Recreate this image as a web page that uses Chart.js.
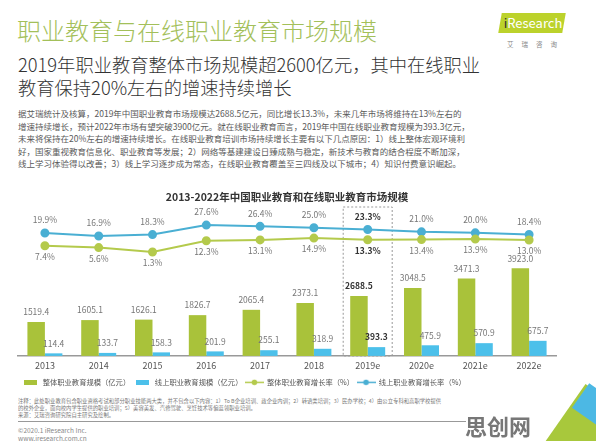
<!DOCTYPE html>
<html>
<head>
<meta charset="utf-8">
<script src="https://cdn.jsdelivr.net/npm/chart.js@4"></script>
<style>
  html, body { margin: 0; padding: 0; background: #fff; }
  body { position: relative; width: 596px; height: 441px; overflow: hidden; font-family: "Noto Sans CJK SC", "Noto Sans", sans-serif; }
  .abs { position: absolute; white-space: nowrap; }
  #title { left: 17px; top: 16px; font-size: 24px; line-height: 28px; color: #a3c05a; font-weight: 300; }
  #subtitle { left: 18px; top: 53px; font-size: 18.3px; line-height: 23px; color: #333; font-weight: 300; }
  #para { left: 18px; top: 107px; font-size: 8.5px; line-height: 12.6px; color: #5a5a5a; }
  #logo { left: 500px; top: 13px; width: 64px; height: 20px; background: #bcd22b; transform: skewX(-10deg); }
  #logoText { left: 502px; top: 13px; width: 62px; font-size: 13px; line-height: 20px; color: #fff; text-align: center; }
  #logoCn { left: 507px; top: 39px; font-size: 6.5px; letter-spacing: 8px; color: #888; }
  #note { left: 18px; top: 398px; font-size: 6px; line-height: 7.3px; color: #777; transform: scale(0.89); transform-origin: 0 0; }
  #rule { left: 18px; top: 421px; width: 448px; height: 1px; background: #999; }
  #copy { left: 18px; top: 427px; font-size: 6.5px; line-height: 7.5px; color: #888; }
  #mark { left: 465px; top: 412px; font-size: 22px; font-weight: bold; line-height: 26px; color: #777; }
  #corner { left: 560px; top: 395px; width: 60px; height: 70px; background: #a8c83c; transform: rotate(35deg); }
  #corner2 { left: 577px; top: 392px; width: 40px; height: 30px; background: #4cb8e4; transform: rotate(35deg); }
  #wrap { position: absolute; left: 0; top: 185px; width: 596px; height: 211px; }
</style>
</head>
<body>
<div class="abs" id="title">职业教育与在线职业教育市场规模</div>
<div class="abs" id="logo"></div>
<div class="abs" id="logoText"><span style="color:#333">i</span>Research</div>
<div class="abs" id="logoCn">艾瑞咨询</div>
<div class="abs" id="subtitle">2019年职业教育整体市场规模超2600亿元，其中在线职业<br>教育保持20%左右的增速持续增长</div>
<div class="abs" id="para">据艾瑞统计及核算，2019年中国职业教育市场规模达2688.5亿元，同比增长13.3%，未来几年市场将维持在13%左右的<br>增速持续增长，预计2022年市场有望突破3900亿元。就在线职业教育而言，2019年中国在线职业教育规模为393.3亿元，<br>未来将保持在20%左右的增速持续增长。在线职业教育培训市场持续增长主要有以下几点原因：1）线上整体宏观环境利<br>好，国家重视教育信息化、职业教育等发展；2）网络等基建建设日臻成熟与稳定，新技术与教育的结合程度不断加深，<br>线上学习体验得以改善；3）线上学习逐步成为常态，在线职业教育覆盖至三四线及以下城市；4）知识付费意识崛起。</div>
<div id="wrap"><canvas id="chart"></canvas></div>
<div class="abs" id="note">注释：此处职业教育包含职业资格考试和部分职业技能两大类，并不包含以下内容：1）To B企业培训、政企业内训；2）转语类培训；3）民办学校；4）由公立专科和高职学校提供<br>的校外企业，面向校内学生提供的职业培训；5）美容美发、汽修驾驶、烹饪技术等偏蓝领职业培训。<br>来源：艾瑞咨询研究院自主研究及绘制。</div>
<div class="abs" id="rule"></div>
<div class="abs" id="copy">©2020.1 iResearch Inc.<br>www.iresearch.com.cn</div>
<div class="abs" id="corner"></div>
<div class="abs" id="corner2"></div>
<div class="abs" id="mark">思创网</div>
<script>
const years = ['2013', '2014', '2015', '2016', '2017', '2018', '2019e', '2020e', '2021e', '2022e'];
const totalMarket = [1519.4, 1605.1, 1626.1, 1826.7, 2065.4, 2373.1, 2688.5, 3048.5, 3471.3, 3923.0];
const onlineMarket = [114.4, 133.7, 158.3, 201.9, 255.1, 318.9, 393.3, 475.9, 570.9, 675.7];
const totalGrowth = [7.4, 5.6, 1.3, 12.3, 13.1, 14.9, 13.3, 13.4, 13.9, 13.0];
const onlineGrowth = [19.9, 16.9, 18.3, 27.6, 26.4, 25.0, 23.3, 21.0, 20.0, 18.4];
const highlight = 6; // 2019e

const GREEN = '#a9c23a';
const BLUE = '#4cc0ea';
const GREEN_LINE = '#b4ca4c';
const BLUE_LINE = '#4aafd3';
const FONT = '"Noto Sans CJK SC", "Noto Sans", sans-serif';

Chart.defaults.font.family = FONT;

function legendIcon(color, kind) {
    const c = document.createElement('canvas');
    const g = c.getContext('2d');
    if (kind === 'bar') {
        c.width = 13; c.height = 5;
        g.fillStyle = color;
        g.fillRect(0, 0, 13, 5);
    } else {
        c.width = 19; c.height = 7;
        g.strokeStyle = color;
        g.lineWidth = 1.5;
        g.beginPath(); g.moveTo(0, 3.5); g.lineTo(19, 3.5); g.stroke();
        g.fillStyle = color;
        g.beginPath(); g.arc(9.5, 3.5, 2.8, 0, Math.PI * 2); g.fill();
    }
    return c;
}
const icons = [legendIcon(GREEN, 'bar'), legendIcon(BLUE, 'bar'), legendIcon(GREEN_LINE, 'line'), legendIcon(BLUE_LINE, 'line')];

// dashed frame round the 2019e column
const frame = {
    id: 'frame',
    beforeDatasetsDraw(chart) {
        const x = chart.scales.x.getPixelForValue(highlight);
        const a = chart.chartArea;
        const ctx = chart.ctx;
        ctx.save();
        ctx.strokeStyle = '#999';
        ctx.lineWidth = 1;
        ctx.setLineDash([2, 2]);
        ctx.strokeRect(x - 24.5, a.top - 3, 49, a.bottom - a.top + 3);
        ctx.restore();
    }
};

const valueLabels = {
    id: 'valueLabels',
    afterDatasetsDraw(chart) {
        const ctx = chart.ctx;
        chart.data.datasets.forEach((ds, i) => {
            const meta = chart.getDatasetMeta(i);
            meta.data.forEach((el, j) => {
                const hl = j === highlight;
                const v = ds.data[j];
                ctx.save();
                ctx.font = (hl ? 'bold ' : '') + '8.5px ' + FONT;
                ctx.fillStyle = hl ? '#333' : '#777';
                ctx.textAlign = 'center';
                ctx.textBaseline = 'middle';
                if (ds.type === 'line') {
                    const y = ds.labelSide === 'above' ? el.y - 13 : el.y + 11;
                    ctx.fillText(v.toFixed(1) + '%', el.x, y);
                } else {
                    ctx.fillText(v.toFixed(1), el.x, el.y - 10);
                }
                ctx.restore();
            });
        });
    }
};

new Chart(document.getElementById('chart'), {
    data: {
        labels: years,
        datasets: [
            { type: 'bar', label: '整体职业教育规模（亿元）', data: totalMarket, backgroundColor: GREEN, yAxisID: 'yBar' },
            { type: 'bar', label: '线上职业教育规模（亿元）', data: onlineMarket, backgroundColor: BLUE, yAxisID: 'yBar' },
            { type: 'line', label: '整体职业教育增长率（%）', data: totalGrowth, borderColor: GREEN_LINE, backgroundColor: GREEN_LINE,
              borderWidth: 2, pointRadius: 3.5, pointBackgroundColor: GREEN_LINE, yAxisID: 'yLine', labelSide: 'below' },
            { type: 'line', label: '线上职业教育增长率（%）', data: onlineGrowth, borderColor: BLUE_LINE, backgroundColor: BLUE_LINE,
              borderWidth: 2, pointRadius: 3.5, pointBackgroundColor: BLUE_LINE, yAxisID: 'yLine', labelSide: 'above' }
        ]
    },
    options: {
        responsive: true,
        maintainAspectRatio: false,
        animation: false,
        layout: { padding: { left: 18, right: 40, top: 0, bottom: 0 } },
        datasets: { bar: { categoryPercentage: 0.65, barPercentage: 1 } },
        plugins: {
            tooltip: { enabled: false },
            title: {
                display: true,
                text: '2013-2022年中国职业教育和在线职业教育市场规模',
                color: '#333',
                font: { size: 10.5, weight: 'bold' },
                padding: { top: 6, bottom: 6.4 }
            },
            legend: {
                position: 'bottom',
                align: 'start',
                labels: {
                    usePointStyle: true,
                    pointStyleWidth: 18,
                    padding: 3,
                    color: '#555',
                    font: { size: 7.3 },
                    generateLabels(chart) {
                        const items = Chart.defaults.plugins.legend.labels.generateLabels(chart);
                        items.forEach((it, i) => { it.pointStyle = icons[i]; });
                        return items;
                    }
                }
            }
        },
        scales: {
            x: {
                grid: { display: false, drawTicks: false },
                border: { display: true, color: '#999', width: 1.5 },
                ticks: { color: '#555', font: { size: 9 }, padding: 4.5 }
            },
            yBar: { display: false, min: 0, max: 6539 },
            yLine: { display: false, min: -100.5, max: 42.4 }
        }
    },
    plugins: [frame, valueLabels]
});
</script>
</body>
</html>
